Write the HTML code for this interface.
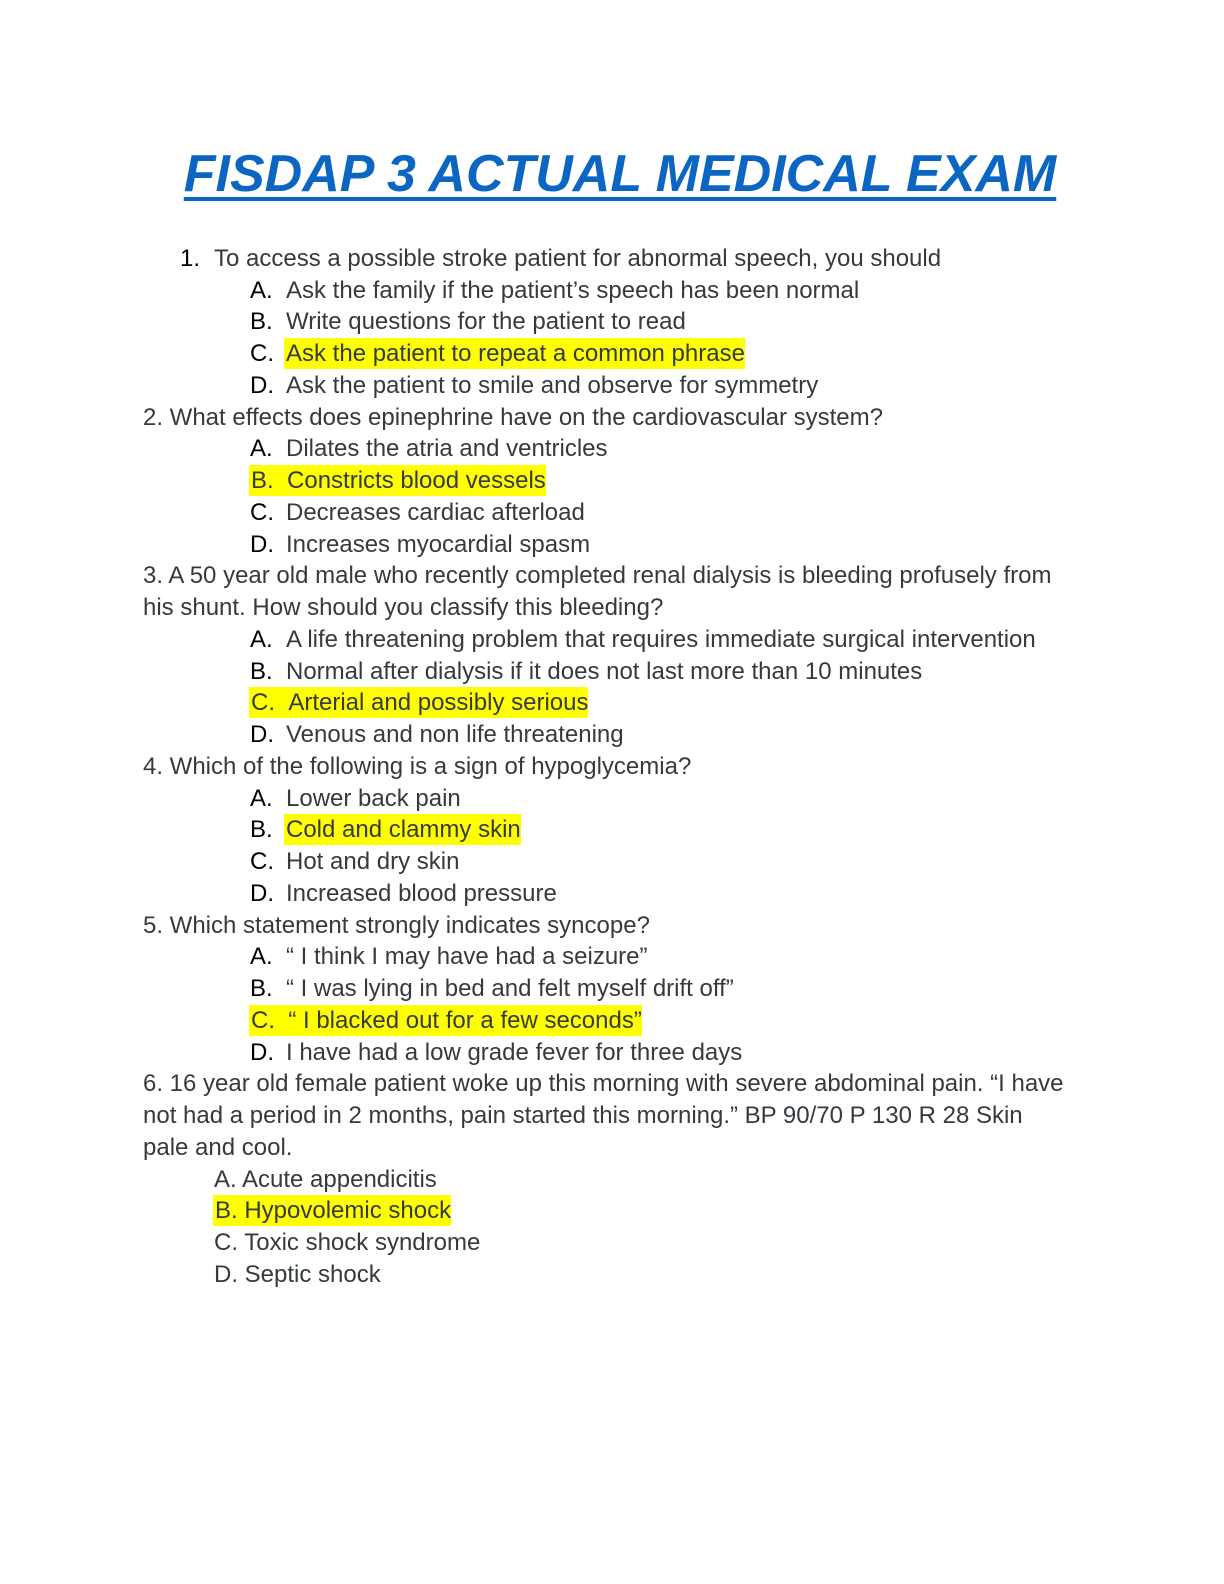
<!DOCTYPE html>
<html><head><meta charset="utf-8"><style>
html,body{margin:0;padding:0;background:#fff;}
body{width:1224px;height:1584px;position:relative;overflow:hidden;font-family:"Liberation Sans",Arial,sans-serif;}
.t{position:absolute;left:8px;width:1224px;text-align:center;top:142px;font-size:52px;font-weight:bold;font-style:italic;color:#0b66c3;line-height:64px;}
.t span{text-decoration:underline;text-decoration-thickness:4px;text-underline-offset:6px;}
.l{position:absolute;font-size:24px;line-height:31px;color:#343a3e;white-space:nowrap;}
.k{color:#000;}
.h{background:#ffff00;padding:2px 0 2px 2px;}
</style></head><body>
<div class="t"><span>FISDAP 3 ACTUAL MEDICAL EXAM</span></div>

<div class="l k" style="left:180px;top:243px">1.</div><div class="l" style="left:214px;top:243px">To access a possible stroke patient for abnormal speech, you should</div>
<div class="l k" style="left:250px;top:275px">A.</div><div class="l" style="left:286px;top:275px">Ask the family if the patient’s speech has been normal</div>
<div class="l k" style="left:250px;top:306px">B.</div><div class="l" style="left:286px;top:306px">Write questions for the patient to read</div>
<div class="l k" style="left:250px;top:338px">C.</div><div class="l" style="left:284px;top:338px"><span class="h">Ask the patient to repeat a common phrase</span></div>
<div class="l k" style="left:250px;top:370px">D.</div><div class="l" style="left:286px;top:370px">Ask the patient to smile and observe for symmetry</div>
<div class="l" style="left:143px;top:402px">2. What effects does epinephrine have on the cardiovascular system?</div>
<div class="l k" style="left:250px;top:433px">A.</div><div class="l" style="left:286px;top:433px">Dilates the atria and ventricles</div>
<div class="l" style="left:249px;top:465px"><span class="h">B.&nbsp;&nbsp;Constricts blood vessels</span></div>
<div class="l k" style="left:250px;top:497px">C.</div><div class="l" style="left:286px;top:497px">Decreases cardiac afterload</div>
<div class="l k" style="left:250px;top:529px">D.</div><div class="l" style="left:286px;top:529px">Increases myocardial spasm</div>
<div class="l" style="left:143px;top:560px">3. A 50 year old male who recently completed renal dialysis is bleeding profusely from</div>
<div class="l" style="left:143px;top:592px">his shunt. How should you classify this bleeding?</div>
<div class="l k" style="left:250px;top:624px">A.</div><div class="l" style="left:286px;top:624px">A life threatening problem that requires immediate surgical intervention</div>
<div class="l k" style="left:250px;top:656px">B.</div><div class="l" style="left:286px;top:656px">Normal after dialysis if it does not last more than 10 minutes</div>
<div class="l" style="left:249px;top:687px"><span class="h">C.&nbsp;&nbsp;Arterial and possibly serious</span></div>
<div class="l k" style="left:250px;top:719px">D.</div><div class="l" style="left:286px;top:719px">Venous and non life threatening</div>
<div class="l" style="left:143px;top:751px">4. Which of the following is a sign of hypoglycemia?</div>
<div class="l k" style="left:250px;top:783px">A.</div><div class="l" style="left:286px;top:783px">Lower back pain</div>
<div class="l k" style="left:250px;top:814px">B.</div><div class="l" style="left:284px;top:814px"><span class="h">Cold and clammy skin</span></div>
<div class="l k" style="left:250px;top:846px">C.</div><div class="l" style="left:286px;top:846px">Hot and dry skin</div>
<div class="l k" style="left:250px;top:878px">D.</div><div class="l" style="left:286px;top:878px">Increased blood pressure</div>
<div class="l" style="left:143px;top:910px">5. Which statement strongly indicates syncope?</div>
<div class="l k" style="left:250px;top:941px">A.</div><div class="l" style="left:286px;top:941px">“ I think I may have had a seizure”</div>
<div class="l k" style="left:250px;top:973px">B.</div><div class="l" style="left:286px;top:973px">“ I was lying in bed and felt myself drift off”</div>
<div class="l" style="left:249px;top:1005px"><span class="h">C.&nbsp;&nbsp;“ I blacked out for a few seconds”</span></div>
<div class="l k" style="left:250px;top:1037px">D.</div><div class="l" style="left:286px;top:1037px">I have had a low grade fever for three days</div>
<div class="l" style="left:143px;top:1068px">6. 16 year old female patient woke up this morning with severe abdominal pain. “I have</div>
<div class="l" style="left:143px;top:1100px">not had a period in 2 months, pain started this morning.” BP 90/70 P 130 R 28 Skin</div>
<div class="l" style="left:143px;top:1132px">pale and cool.</div>
<div class="l" style="left:214px;top:1164px">A. Acute appendicitis</div>
<div class="l" style="left:213px;top:1195px"><span class="h">B. Hypovolemic shock</span></div>
<div class="l" style="left:214px;top:1227px">C. Toxic shock syndrome</div>
<div class="l" style="left:214px;top:1259px">D. Septic shock</div>
</body></html>
